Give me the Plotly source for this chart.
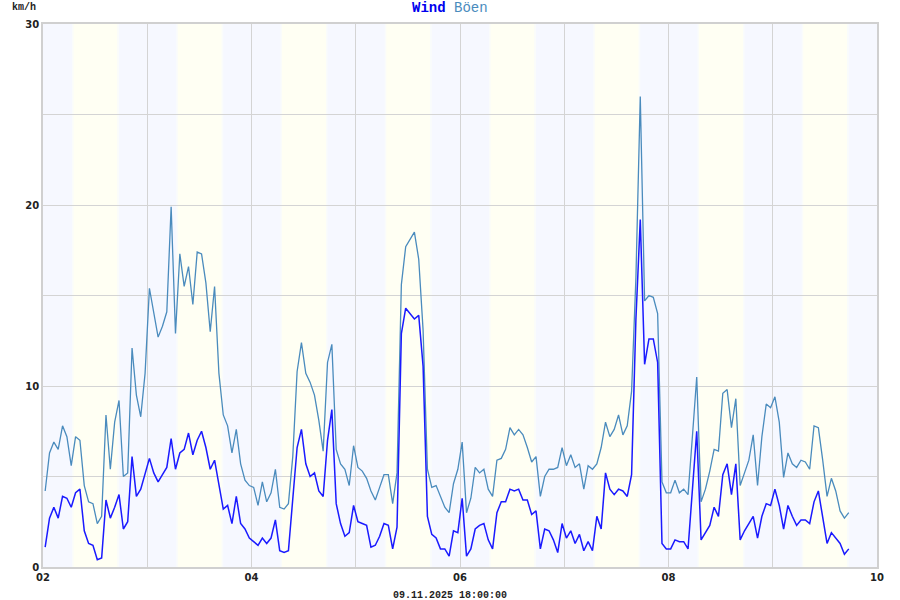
import pandas as pd
import plotly.graph_objects as go

# hourly values, first sample 02.11.2025 00:30
start_time = "2025-11-02 00:30"

boeen = [
    4.2, 6.3, 6.9, 6.5, 7.8, 7.2, 5.6, 7.2, 7.0, 4.5, 3.6, 3.5, 2.4, 2.8, 8.4, 5.4, 8.0, 9.2, 5.0, 5.2, 12.1, 9.5, 8.3, 10.7, 15.4, 14.1, 12.7, 13.3, 14.1, 19.9, 12.9, 17.3,
    15.5, 16.6, 14.5, 17.4, 17.3, 15.7, 13.0, 15.5, 10.7, 8.4, 7.8, 6.3, 7.6, 5.7, 4.8, 4.5, 4.4, 3.4, 4.7, 3.6, 4.1, 5.4, 3.3, 3.2, 3.5, 6.1, 10.8, 12.4, 10.7, 10.2, 9.5,
    8.1, 6.4, 11.3, 12.3, 6.5, 5.7, 5.4, 4.5, 6.7, 5.5, 5.3, 4.9, 4.2, 3.7, 4.4, 5.1, 5.1, 3.5, 5.2, 15.6, 17.7, 18.1, 18.5, 17.0, 13.1, 5.4, 4.4, 4.5, 3.9, 3.3, 3.0,
    4.6, 5.4, 6.9, 3.0, 3.8, 5.5, 5.2, 5.4, 4.3, 3.9, 5.9, 6.0, 6.5, 7.7, 7.3, 7.6, 7.3, 6.6, 5.8, 6.1, 3.9, 5.0, 5.4, 5.4, 5.5, 6.6, 5.6, 6.2, 5.5, 5.7, 4.3,
    5.6, 5.4, 5.7, 6.6, 8.0, 7.2, 7.6, 8.4, 7.3, 7.8, 9.7, 16.0, 26.0, 14.7, 15.0, 14.9, 14.0, 4.7, 4.1, 4.1, 4.8, 4.1, 4.3, 4.0, 7.2, 10.5, 3.6, 4.3, 5.3, 6.5, 6.4,
    9.6, 9.8, 7.7, 9.3, 4.5, 5.2, 5.9, 7.3, 4.5, 7.2, 9.0, 8.8, 9.4, 8.0, 4.95, 6.3, 5.7, 5.5, 5.9, 5.8, 5.4, 7.8, 7.7, 5.9, 3.9, 4.9, 4.2, 3.1, 2.7, 3.0,
]

wind = [
    1.1, 2.7, 3.3, 2.7, 3.9, 3.8, 3.3, 4.1, 4.3, 2.0, 1.3, 1.2, 0.4, 0.5, 3.7, 2.7, 3.3, 4.0, 2.1, 2.5, 6.1, 3.9, 4.3, 5.1, 6.0, 5.2, 4.7, 5.1, 5.5, 7.1, 5.4, 6.3,
    6.5, 7.4, 6.2, 7.0, 7.5, 6.6, 5.4, 5.9, 4.5, 3.2, 3.4, 2.4, 3.9, 2.4, 2.1, 1.6, 1.4, 1.2, 1.6, 1.3, 1.6, 2.6, 0.9, 0.8, 0.9, 3.7, 6.6, 7.6, 5.7, 5.0, 5.2,
    4.2, 3.9, 7.0, 8.7, 3.5, 2.4, 1.7, 1.9, 3.4, 2.5, 2.4, 2.3, 1.1, 1.2, 1.7, 2.4, 2.3, 1.0, 2.2, 12.9, 14.3, 14.0, 13.7, 13.9, 11.1, 2.8, 1.8, 1.6, 1.0, 1.0, 0.6,
    2.0, 1.9, 3.8, 0.6, 1.0, 2.1, 2.3, 2.4, 1.5, 1.0, 3.0, 3.6, 3.6, 4.3, 4.2, 4.3, 3.7, 3.7, 2.9, 3.1, 1.0, 2.1, 2.0, 1.5, 0.8, 2.4, 1.6, 2.0, 1.3, 1.8, 0.9,
    1.4, 0.9, 2.8, 2.1, 5.2, 4.3, 4.0, 4.3, 4.2, 3.9, 5.1, 13.7, 19.2, 11.2, 12.6, 12.6, 11.3, 1.3, 1.0, 1.0, 1.5, 1.4, 1.4, 1.0, 4.2, 7.5, 1.5, 1.9, 2.3, 3.3, 2.8,
    5.1, 5.7, 4.0, 5.7, 1.5, 2.0, 2.4, 2.8, 1.6, 2.8, 3.5, 3.4, 4.3, 3.4, 2.1, 3.4, 2.8, 2.3, 2.6, 2.6, 2.4, 3.6, 4.2, 2.8, 1.3, 1.9, 1.6, 1.3, 0.7, 1.0,
]

days = ["2025-11-02", "2025-11-03", "2025-11-04", "2025-11-05",
        "2025-11-06", "2025-11-07", "2025-11-08", "2025-11-09"]
sunrise = "07:00"
sunset = "17:10"
x_ticks = ["02", "04", "06", "08", "10"]
y_ticks = [0, 10, 20, 30]
stamp = "09.11.2025 18:00:00"

n = min(len(boeen), len(wind))
times = pd.date_range(start_time, periods=n, freq="h")

fig = go.Figure()
fig.add_trace(go.Scatter(x=times, y=boeen[:n], mode="lines", name="Böen",
                         line=dict(color="#4a8bbd", width=1.3), hoverinfo="skip"))
fig.add_trace(go.Scatter(x=times, y=wind[:n], mode="lines", name="Wind",
                         line=dict(color="#1a1aff", width=1.5), hoverinfo="skip"))

shapes = []
for d in days:
    t0 = pd.Timestamp(f"{d} {sunrise}")
    t1 = pd.Timestamp(f"{d} {sunset}")
    tw = pd.Timedelta(minutes=20)
    shapes.append(dict(type="rect", xref="x", yref="y", x0=t0 - tw, x1=t0, y0=0, y1=30,
                       fillcolor="#fafcfb", line_width=0, layer="below"))
    shapes.append(dict(type="rect", xref="x", yref="y", x0=t0, x1=t1, y0=0, y1=30,
                       fillcolor="#fffff3", line_width=0, layer="below"))
    shapes.append(dict(type="rect", xref="x", yref="y", x0=t1, x1=t1 + tw, y0=0, y1=30,
                       fillcolor="#fafcfb", line_width=0, layer="below"))

tickvals = [pd.Timestamp(f"2025-11-{t}") for t in x_ticks]

fig.update_layout(
    width=900, height=600,
    margin=dict(l=43, r=23, t=24, b=33),
    paper_bgcolor="white",
    plot_bgcolor="#f6f8ff",
    showlegend=False,
    shapes=shapes,
    annotations=[
        dict(text="<b><span style='color:#0000ee'>Wind</span></b> "
                  "<span style='color:#4a8bbd'>Böen</span>",
             xref="paper", yref="paper", x=0.5, xshift=-10, y=1, yshift=16,
             showarrow=False, xanchor="center", yanchor="middle",
             font=dict(family="Liberation Mono", size=14)),
        dict(text="<b>km/h</b>", xref="paper", yref="paper", x=0, xshift=-33,
             y=1, yshift=17, showarrow=False, xanchor="left", yanchor="middle",
             font=dict(family="Liberation Mono", size=10, color="#222")),
        dict(text="<b>" + stamp + "</b>", xref="paper", yref="paper", x=0.5,
             xshift=-10, y=0, yshift=-28, showarrow=False, xanchor="center",
             yanchor="middle",
             font=dict(family="Liberation Mono", size=10, color="#222")),
    ],
)

grid = "#d4d4d4"
fig.update_xaxes(
    type="date",
    range=[pd.Timestamp("2025-11-02"), pd.Timestamp("2025-11-10")],
    tickvals=tickvals, ticktext=[f"<b>{t}</b>" for t in x_ticks],
    showgrid=True, gridcolor=grid, gridwidth=1,
    minor=dict(dtick=86400000, showgrid=True, gridcolor=grid, gridwidth=1),
    showline=True, linecolor="#d0d0d0", linewidth=1.5, mirror=True,
    ticks="", tickfont=dict(family="DejaVu Sans", size=10, color="#222"),
    zeroline=False,
)
fig.update_yaxes(
    range=[0, 30], tickvals=y_ticks, ticktext=[f"<b>{t}</b>" for t in y_ticks],
    showgrid=True, gridcolor=grid, gridwidth=1,
    minor=dict(dtick=5, showgrid=True, gridcolor=grid, gridwidth=1),
    showline=True, linecolor="#d0d0d0", linewidth=1.5, mirror=True,
    ticks="", tickfont=dict(family="DejaVu Sans", size=10, color="#222"),
    zeroline=False,
)

fig.write_html("out.html", config={"displayModeBar": False},
               post_script="document.body.style.margin='0';document.body.style.padding='0';")
